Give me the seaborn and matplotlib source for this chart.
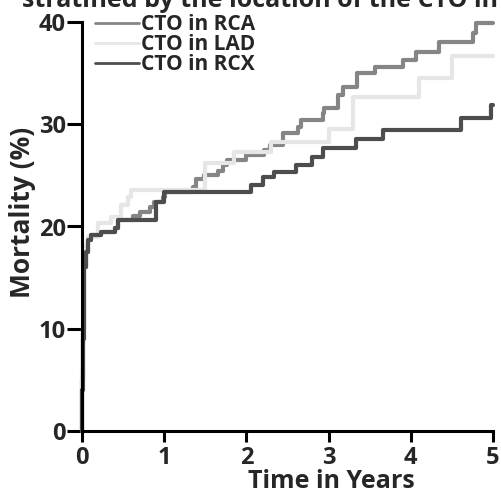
import pandas as pd
import seaborn as sns
import matplotlib.pyplot as plt

# step points (time in years, mortality in %)
rca_t = [0, 0.005, 0.01, 0.02, 0.03, 0.05, 0.07, 0.11, 0.23, 0.40, 0.44, 0.62, 0.71, 0.83, 0.87, 0.99, 1.01,
         1.35, 1.39, 1.48, 1.66, 1.72, 1.76, 1.99, 2.21, 2.29, 2.44, 2.45, 2.63, 2.66, 2.93, 2.94, 3.11, 3.12,
         3.18, 3.35, 3.57, 3.91, 4.06, 4.34, 4.76, 4.79, 5.0]
rca_y = [0, 5, 10, 14, 16, 17.5, 18.7, 19.2, 19.5, 19.9, 20.6, 21.0, 21.4, 21.9, 22.4, 22.9, 23.4,
         23.9, 24.6, 25.0, 25.4, 26.0, 26.5, 27.0, 27.5, 28.0, 28.5, 29.1, 29.7, 30.4, 31.1, 31.6, 32.4, 32.9,
         33.6, 35.0, 35.6, 36.3, 37.1, 38.0, 38.9, 39.9, 39.9]

lad_t = [0, 0.005, 0.01, 0.02, 0.03, 0.05, 0.07, 0.2, 0.35, 0.47, 0.56, 0.6, 1.5, 1.85, 2.3, 3.0, 3.3,
         4.1, 4.5, 5.0]
lad_y = [0, 6, 11, 15, 17, 18.2, 19.0, 20.3, 20.9, 22.1, 22.9, 23.6, 26.2, 27.3, 28.3, 29.5, 32.7,
         34.5, 36.7, 36.7]

rcx_t = [0, 0.005, 0.01, 0.02, 0.03, 0.05, 0.07, 0.11, 0.23, 0.40, 0.44, 0.9, 1.0, 2.05, 2.2, 2.33, 2.6,
         2.8, 2.93, 3.33, 3.66, 4.61, 4.98, 5.0]
rcx_y = [0, 4, 9, 13.5, 16, 17.5, 18.7, 19.2, 19.5, 19.9, 20.6, 22.4, 23.4, 24.1, 24.8, 25.3, 26.0,
         26.8, 27.7, 28.6, 29.4, 30.6, 31.9, 31.9]

groups = ['CTO in RCA', 'CTO in LAD', 'CTO in RCX']
colors = ['#858585', '#e6e6e6', '#4d4d4d']

df = pd.concat([
    pd.DataFrame({'time': rca_t, 'mort': rca_y, 'group': groups[0]}),
    pd.DataFrame({'time': lad_t, 'mort': lad_y, 'group': groups[1]}),
    pd.DataFrame({'time': rcx_t, 'mort': rcx_y, 'group': groups[2]}),
])

sns.set_style('ticks')
plt.rcParams['font.family'] = ['Open Sans', 'DejaVu Sans']
plt.rcParams['font.weight'] = 'bold'

fig = plt.figure(figsize=(5.02, 4.92), dpi=100)
ax = fig.add_axes([82 / 502, 61 / 492, 411 / 502, 409 / 492])

sns.lineplot(data=df, x='time', y='mort', hue='group', hue_order=groups,
             palette=dict(zip(groups, colors)), drawstyle='steps-post',
             estimator=None, linewidth=3, ax=ax)
for ln in ax.get_lines():
    ln.set_clip_on(False)

ax.set_xlim(0, 5)
ax.set_ylim(0, 40)
ax.set_xticks([0, 1, 2, 3, 4, 5])
ax.set_yticks([0, 10, 20, 30, 40])
sns.despine(ax=ax)
for s in ['left', 'bottom']:
    ax.spines[s].set_linewidth(2.2)
    ax.spines[s].set_color('black')
ax.tick_params(axis='y', direction='out', length=10.5, width=2.2, color='black',
               labelsize=17, pad=1)
ax.tick_params(axis='x', direction='out', length=8, width=2.2, color='black',
               labelsize=17, pad=3)
for lab in ax.get_xticklabels() + ax.get_yticklabels():
    lab.set_fontweight('bold')

ax.set_xlabel('Time in Years', fontsize=18, fontweight='bold', va='top')
ax.xaxis.set_label_coords(0.606, -0.094)
ax.set_ylabel('Mortality (%)', fontsize=19, fontweight='bold', va='center')
ax.yaxis.set_label_coords(-0.145, 0.535)

sns.move_legend(ax, 'upper left', bbox_to_anchor=(95 / 502, 1 - 14 / 492),
                bbox_transform=fig.transFigure, frameon=False, title=None,
                fontsize=15, handlelength=2.1, handletextpad=0.1, labelspacing=-0.05,
                borderpad=0, borderaxespad=0)
leg = ax.get_legend()
for ln in leg.get_lines():
    ln.set_linewidth(2.0)
for t in leg.get_texts():
    t.set_fontweight('bold')

fig.text(22 / 502, 1 - 7 / 492, 'stratified by the location of the CTO in the coronary arteries',
         fontsize=18, fontweight='bold', va='baseline', ha='left')

fig.savefig('out.png', dpi=100)
